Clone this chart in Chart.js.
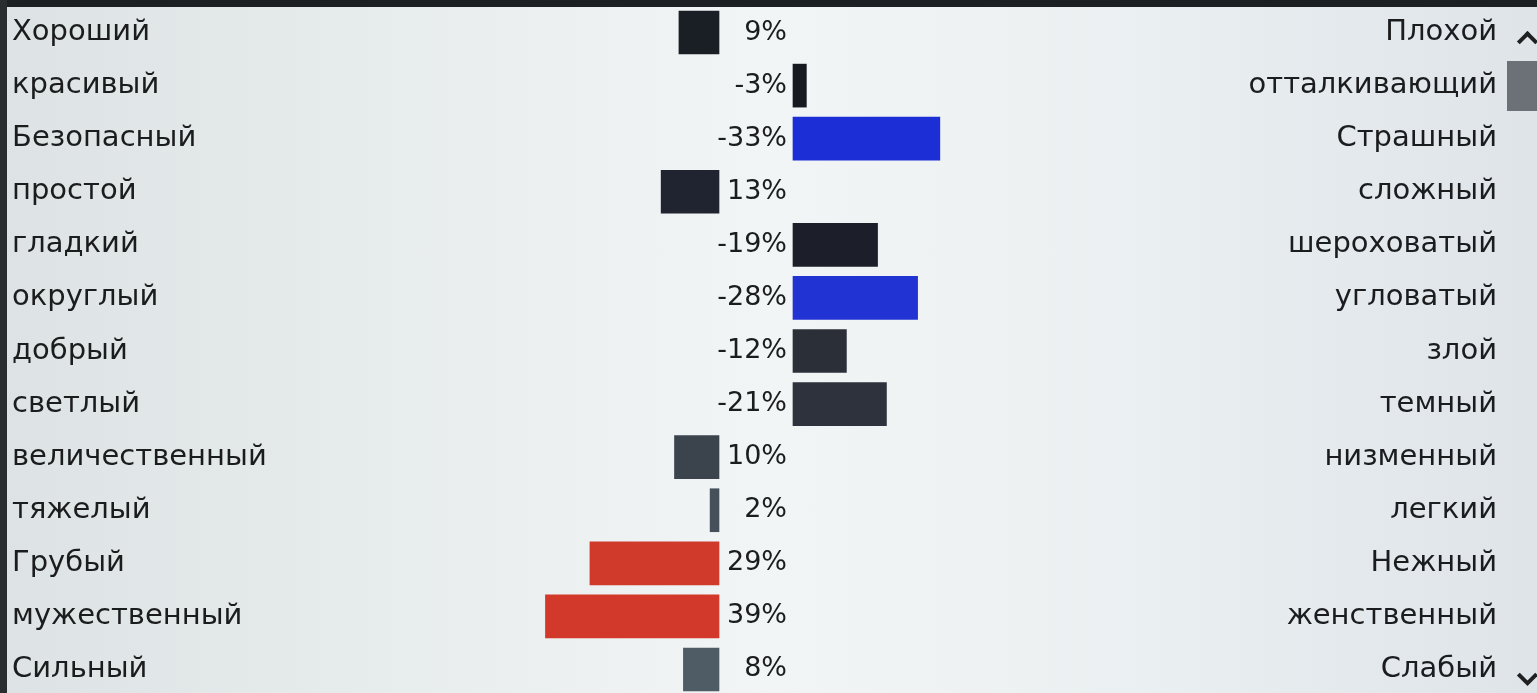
<!DOCTYPE html>
<html lang="ru">
<head>
<meta charset="utf-8">
<title>Семантический дифференциал</title>
<script src="https://cdn.jsdelivr.net/npm/chart.js@4.4.1/dist/chart.umd.min.js"></script>
<style>
    html, body {
        margin: 0;
        padding: 0;
        overflow: hidden;
        width: 1537px;
        height: 693px;
    }
    body {
        position: relative;
        background: linear-gradient(90deg, #dde3e4 0%, #e7eced 25%, #f2f5f5 50%, #eaeff1 75%, #dee4e8 100%);
    }
    #chartBox {
        position: absolute;
        left: 0;
        top: 0;
    }
    .border-top {
        position: absolute;
        left: 0; top: 0;
        width: 1537px; height: 7px;
        background: #1d2022;
    }
    .border-left {
        position: absolute;
        left: 0; top: 0;
        width: 7px; height: 693px;
        background: #2a2d30;
    }
    .thumb {
        position: absolute;
        left: 1507px; top: 61px;
        width: 30px; height: 50px;
        background: #6b7176;
    }
    .chevron {
        position: absolute;
        width: 11px; height: 11px;
        border-left: 4px solid #1e2022;
        border-top: 4px solid #1e2022;
    }
    .chevron.up { left: 1520px; top: 34px; transform: rotate(45deg); }
    .chevron.down { left: 1520px; top: 668px; transform: rotate(225deg); }
</style>
</head>
<body>
<canvas id="chartBox" width="1537" height="700"></canvas>
<div class="border-top"></div>
<div class="border-left"></div>
<div class="thumb"></div>
<div class="chevron up"></div>
<div class="chevron down"></div>
<script>
// Left and right poles of each scale
const leftLabels = [
    "Хороший", "красивый", "Безопасный", "простой", "гладкий", "округлый", "добрый",
    "светлый", "величественный", "тяжелый", "Грубый", "мужественный", "Сильный"
];
const rightLabels = [
    "Плохой", "отталкивающий", "Страшный", "сложный", "шероховатый", "угловатый", "злой",
    "темный", "низменный", "легкий", "Нежный", "женственный", "Слабый"
];
// Score in percent (positive = towards left pole)
const scores = [9, -3, -33, 13, -19, -28, -12, -21, 10, 2, 29, 39, 8];

// Bar colours, one per row
const barColors = [
    "#1a1e25", "#16191f", "#1c2fd6", "#1f2430", "#1c1f29", "#2233d4", "#2b2f38",
    "#2d323d", "#3b434d", "#46505a", "#d03a2b", "#d2392b", "#4f5c66"
];

const FONT = { family: "DejaVu Sans", size: 29 };
const PCT_FONT_SIZE = 27;
const TEXT_COLOR = "#1b1c1e";
const PX_PER_PCT = 4.45;
const LEFT_ZERO = 719;   // base of bars growing left
const RIGHT_ZERO = 793;  // base of bars growing right
const PAD = { left: 12, right: 40, top: 6, bottom: 4 };
const AXIS_W = 500;
const areaL = PAD.left + AXIS_W;
const areaR = 1537 - PAD.right - AXIS_W;
const spanPct = (areaR - areaL) / PX_PER_PCT;
const posMax = (LEFT_ZERO - areaL) / PX_PER_PCT;
const negMin = -(RIGHT_ZERO - areaL) / PX_PER_PCT;

function fitLabelAxis(s) {
    s.width = AXIS_W;
    s.paddingTop = 0;
    s.paddingBottom = 0;
}

// Percent text between the two bar bases
const percentLabels = {
    id: "percentLabels",
    afterDatasetsDraw(chart) {
        const { ctx } = chart;
        const yScale = chart.scales.y;
        const x = chart.scales.xNeg.getPixelForValue(0) - 6;
        ctx.save();
        ctx.font = `${PCT_FONT_SIZE}px "${FONT.family}"`;
        ctx.fillStyle = TEXT_COLOR;
        ctx.textAlign = "right";
        ctx.textBaseline = "middle";
        scores.forEach((v, i) => {
            ctx.fillText(`${v}%`, x, yScale.getPixelForValue(i));
        });
        ctx.restore();
    }
};

const ctx = document.getElementById("chartBox").getContext("2d");
new Chart(ctx, {
    type: "bar",
    data: {
        labels: leftLabels,
        datasets: [{
            label: "left",
            data: scores.map(v => v > 0 ? v : null),
            backgroundColor: barColors,
            xAxisID: "xPos",
            yAxisID: "y",
            barThickness: 43
        }, {
            label: "right",
            data: scores.map(v => v < 0 ? -v : null),
            backgroundColor: barColors,
            xAxisID: "xNeg",
            yAxisID: "y",
            barThickness: 43
        }]
    },
    options: {
        indexAxis: "y",
        responsive: false,
        animation: false,
        layout: { padding: PAD },
        plugins: {
            legend: { display: false },
            tooltip: { enabled: false }
        },
        datasets: { bar: { grouped: false } },
        scales: {
            y: {
                position: "left",
                offset: true,
                grid: { display: false },
                border: { display: false },
                ticks: { crossAlign: "far", font: FONT, color: TEXT_COLOR },
                afterFit: fitLabelAxis
            },
            yR: {
                type: "category",
                position: "right",
                labels: rightLabels,
                offset: true,
                grid: { display: false },
                border: { display: false },
                ticks: { crossAlign: "far", font: FONT, color: TEXT_COLOR },
                afterFit: fitLabelAxis
            },
            xPos: {
                type: "linear",
                axis: "x",
                reverse: true,
                min: posMax - spanPct,
                max: posMax,
                display: false
            },
            xNeg: {
                type: "linear",
                axis: "x",
                min: negMin,
                max: negMin + spanPct,
                display: false
            }
        }
    },
    plugins: [percentLabels]
});
</script>
</body>
</html>
